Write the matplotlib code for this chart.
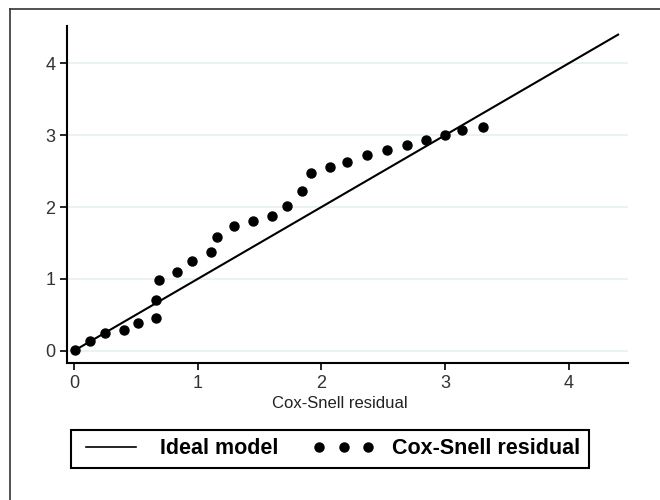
import numpy as np
import matplotlib.pyplot as plt
from matplotlib.lines import Line2D

plt.rcParams['font.family'] = ['Liberation Sans', 'DejaVu Sans']

# Cox-Snell residuals vs. cumulative hazard
resid = [0.01, 0.13, 0.25, 0.40, 0.52, 0.66, 0.66, 0.69, 0.83, 0.95,
         1.11, 1.16, 1.29, 1.45, 1.60, 1.72, 1.84, 1.92, 2.07, 2.21,
         2.37, 2.53, 2.69, 2.85, 3.00, 3.14, 3.31]
cumhaz = [0.01, 0.13, 0.25, 0.29, 0.39, 0.45, 0.71, 0.99, 1.10, 1.25,
          1.37, 1.59, 1.73, 1.80, 1.87, 2.02, 2.22, 2.47, 2.56, 2.63,
          2.73, 2.80, 2.87, 2.94, 3.00, 3.07, 3.12]
ideal = [0, 4.4]
ticks = [0, 1, 2, 3, 4]

W, H = 660, 500
fig = plt.figure(figsize=(6.6, 5), dpi=100)

# outer frame (left and top only, like the cropped scan)
fig.add_artist(Line2D([10/W, 10/W], [0, 1 - 9/H], color='#333333', lw=1.2))
fig.add_artist(Line2D([10/W, 1], [1 - 9/H, 1 - 9/H], color='#333333', lw=1.2))

ax = fig.add_axes([67/W, 137/H, (628-67)/W, (363-26)/H])
ax.set_xlim(-0.057, 4.48)
ax.set_ylim(-0.17, 4.52)

for t in ticks:
    ax.axhline(t, color='#e8f0f0', lw=1.2, zorder=0)

ax.plot(ideal, ideal, color='black', lw=1.5, zorder=2)
ax.plot(resid, cumhaz, 'o', color='black', ms=6.5, zorder=3)

ax.set_xticks(ticks)
ax.set_yticks(ticks)
ax.tick_params(direction='out', length=5, width=1.2, labelsize=13,
               colors='black', labelcolor='#333333')
for s in ['top', 'right']:
    ax.spines[s].set_visible(False)
for s in ['left', 'bottom']:
    ax.spines[s].set_linewidth(1.5)
ax.set_xlabel('Cox-Snell residual', fontsize=12, color='#222222')
ax.xaxis.set_label_coords((340 - 67) / (628 - 67), -(404 - 363) / (363 - 26))
ax.xaxis.label.set_va('center')

handles = [Line2D([], [], color='black', lw=1.2),
           Line2D([], [], marker='o', ls='none', color='black', ms=6.5)]
leg = fig.legend(handles, ['Ideal model', 'Cox-Snell residual'],
                 loc='center', bbox_to_anchor=(330/W, 1 - 449/H), ncol=2,
                 numpoints=3, fancybox=False, edgecolor='black', framealpha=1,
                 prop={'weight': 'bold', 'size': 15.5}, handlelength=2.9,
                 columnspacing=1.6, borderpad=0.4, handletextpad=0.8)
leg.get_frame().set_linewidth(1.5)

fig.savefig('out.png', dpi=100)
